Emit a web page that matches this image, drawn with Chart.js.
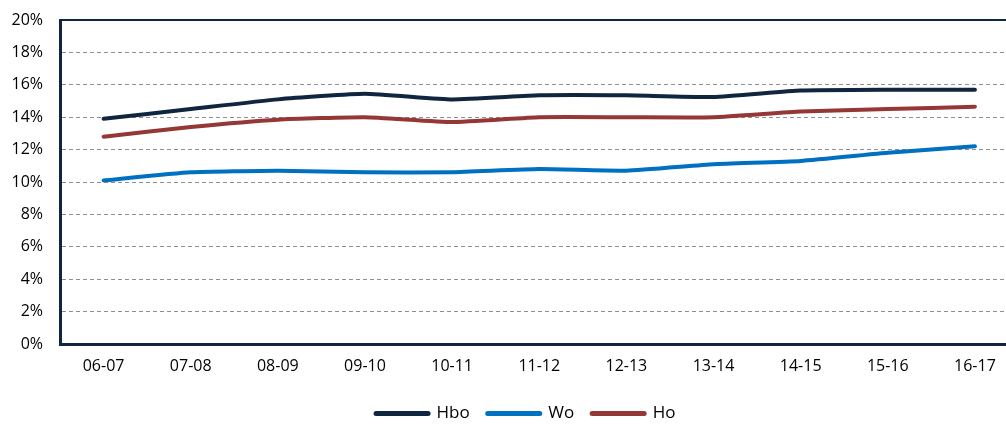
<!DOCTYPE html>
<html>
<head>
<meta charset="utf-8">
<script src="https://cdn.jsdelivr.net/npm/chart.js@4/dist/chart.umd.min.js"></script>
<style>
  html, body { margin: 0; padding: 0; background: #fff; overflow: hidden; width: 1006px; height: 425px; }
  #wrap { position: relative; width: 1030px; height: 425px; }
</style>
</head>
<body>
<div id="wrap"><canvas id="c"></canvas></div>
<script>
const categories = ['06-07','07-08','08-09','09-10','10-11','11-12','12-13','13-14','14-15','15-16','16-17'];
const hbo = [13.9, 14.5, 15.1, 15.45, 15.1, 15.35, 15.35, 15.25, 15.65, 15.7, 15.7];
const wo  = [10.1, 10.6, 10.7, 10.6, 10.6, 10.8, 10.7, 11.1, 11.3, 11.8, 12.2];
const ho  = [12.8, 13.4, 13.85, 14.0, 13.7, 14.0, 14.0, 14.0, 14.35, 14.5, 14.65];
const seriesNames = ['Hbo', 'Wo', 'Ho'];
const seriesColors = ['#10253f', '#0070c0', '#953735'];
const yTicks = [0, 2, 4, 6, 8, 10, 12, 14, 16, 18, 20];

const NAVY = '#10253f';
const FONT = '"Open Sans", sans-serif';

const mk = (i, data) => ({
  label: seriesNames[i],
  data: data,
  borderColor: seriesColors[i],
  backgroundColor: seriesColors[i],
  borderWidth: 4,
  borderCapStyle: 'round',
  borderJoinStyle: 'round',
  pointRadius: 0,
  pointHoverRadius: 0,
  tension: 0.15,
  fill: false
});

// shift the legend so it is centred like the original (wider) chart
const legendShift = {
  id: 'legendShift',
  afterLayout(chart) {
    if (chart.legend) { chart.legend.left += 16.5; chart.legend.right += 16.5; }
  }
};

new Chart(document.getElementById('c'), {
  type: 'line',
  data: {
    labels: categories,
    datasets: [mk(0, hbo), mk(1, wo), mk(2, ho)]
  },
  plugins: [legendShift],
  options: {
    responsive: true,
    maintainAspectRatio: false,
    animation: false,
    layout: { padding: { top: 20, right: 11.5, left: 0, bottom: -7 } },
    plugins: {
      tooltip: { enabled: false },
      legend: {
        position: 'bottom',
        align: 'center',
        labels: {
          usePointStyle: true,
          pointStyleWidth: 52,
          padding: 18,
          color: '#000',
          font: { family: FONT, size: 17 },
          generateLabels: (chart) => chart.data.datasets.map((d, i) => ({
            text: d.label,
            fillStyle: d.borderColor,
            strokeStyle: d.borderColor,
            lineWidth: 5,
            lineCap: 'round',
            pointStyle: 'line',
            fontColor: '#000',
            hidden: false,
            datasetIndex: i
          }))
        }
      }
    },
    scales: {
      x: {
        type: 'category',
        offset: true,
        grid: { display: false, drawTicks: false },
        border: { display: true, color: NAVY, width: 3 },
        ticks: { color: '#000', padding: 13, font: { family: FONT, size: 16 }, maxRotation: 0, autoSkip: false },
        afterFit: (s) => { s.height = 43; s.paddingLeft = 0; s.paddingRight = 0; }
      },
      y: {
        min: 0,
        max: 20,
        afterBuildTicks: (s) => { s.ticks = yTicks.map(v => ({ value: v })); },
        grid: {
          drawTicks: false,
          color: (ctx) => ctx.tick && ctx.tick.value === 20 ? NAVY : (ctx.tick && ctx.tick.value === 0 ? 'rgba(0,0,0,0)' : '#909090'),
          lineWidth: (ctx) => ctx.tick && ctx.tick.value === 20 ? 2 : 1
        },
        border: {
          display: true,
          color: NAVY,
          width: 3,
          dash: (ctx) => (ctx.type === 'tick' && ctx.tick && ctx.tick.value !== 20) ? [4, 3] : []
        },
        ticks: {
          color: '#000',
          padding: 17,
          font: { family: FONT, size: 16 },
          callback: (v) => v + '%'
        },
        afterFit: (s) => { s.width = 60; s.paddingTop = 0; s.paddingBottom = 0; }
      }
    }
  }
});
</script>
</body>
</html>
